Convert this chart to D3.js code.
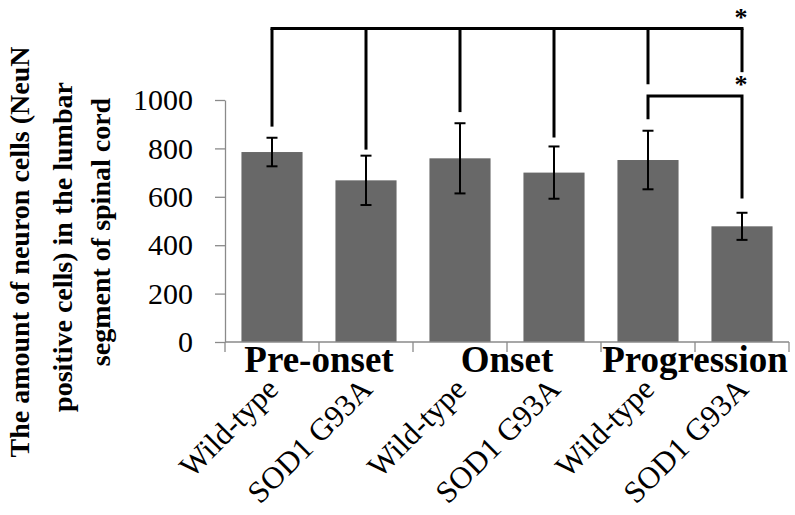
<!DOCTYPE html>
<html>
<head>
<meta charset="utf-8">
<script src="https://cdn.jsdelivr.net/npm/d3@7"></script>
<style>
  body { margin: 0; background: #fff; }
  svg { display: block; }
  text { font-family: "Liberation Serif", "Times New Roman", serif; fill: #000; }
</style>
</head>
<body>
<div id="chart"></div>
<script>
// data
const categories = ["Wild-type", "SOD1 G93A", "Wild-type", "SOD1 G93A", "Wild-type", "SOD1 G93A"];
const groups = ["Pre-onset", "Onset", "Progression"];
const means = [785, 668, 759, 700, 752, 478];
const errors = [59, 102, 145, 108, 121, 56];
const yTicks = [0, 200, 400, 600, 800, 1000];
const yTitle = ["The amount of neuron cells (NeuN", "positive cells) in the lumbar", "segment of spinal cord"];

// significance brackets (in data units)
const legEnds = [890, 795, 950, 845, 1065, 1115]; // lower end of each leg of the big bracket
const bigLevel = 1295;
const small = { from: 4, to: 5, level: 1017, leftEnd: 920, rightEnd: 593 };
const starLevels = [1354, 1078];

const width = 795, height = 515;
const serif = '"Liberation Serif", "Times New Roman", serif';

const svg = d3.select("#chart").append("svg")
    .attr("width", width)
    .attr("height", height);

// scales
const x = d3.scaleBand().domain(d3.range(categories.length)).range([225, 789]).padding(0);
const y = d3.scaleLinear().domain([0, 1000]).range([342, 100]);
const step = x.bandwidth();
const barW = step * 0.65;
const cx = i => x(i) + step / 2;

// bars
svg.append("g").selectAll("rect")
    .data(means)
    .join("rect")
    .attr("x", (d, i) => cx(i) - barW / 2)
    .attr("y", d => y(d))
    .attr("width", barW)
    .attr("height", d => y(0) - y(d))
    .attr("fill", "#686868");

// y axis
const yAxis = svg.append("g")
    .attr("transform", "translate(225,0)")
    .call(d3.axisLeft(y).tickValues(yTicks).tickFormat(d3.format("d"))
        .tickSize(10).tickSizeOuter(0).tickPadding(22));
yAxis.attr("font-family", serif).attr("font-size", 30);
yAxis.select(".domain").attr("stroke", "#8a8a8a").attr("stroke-width", 1.3);
yAxis.selectAll(".tick line").attr("stroke", "#8a8a8a").attr("stroke-width", 1.3);
yAxis.selectAll(".tick text")
    .attr("font-family", serif)
    .attr("font-size", 30)
    .attr("fill", "#000");

// x axis line + boundary ticks
svg.append("line")
    .attr("x1", 225).attr("x2", x.range()[1])
    .attr("y1", y(0)).attr("y2", y(0))
    .attr("stroke", "#8a8a8a").attr("stroke-width", 1.3);
svg.append("g").selectAll("line")
    .data(d3.range(categories.length + 1))
    .join("line")
    .attr("x1", i => 225 + i * step).attr("x2", i => 225 + i * step)
    .attr("y1", y(0)).attr("y2", y(0) + 10)
    .attr("stroke", "#8a8a8a").attr("stroke-width", 1.3);

// error bars
const eb = svg.append("g").attr("stroke", "#000").attr("stroke-width", 2);
means.forEach((m, i) => {
    const hi = y(m + errors[i]), lo = y(m - errors[i]);
    eb.append("line").attr("x1", cx(i)).attr("x2", cx(i)).attr("y1", hi).attr("y2", lo);
    eb.append("line").attr("x1", cx(i) - 5.5).attr("x2", cx(i) + 5.5).attr("y1", hi).attr("y2", hi);
    eb.append("line").attr("x1", cx(i) - 5.5).attr("x2", cx(i) + 5.5).attr("y1", lo).attr("y2", lo);
});

// group labels
svg.append("g").selectAll("text")
    .data(groups)
    .join("text")
    .attr("x", (d, g) => x(g * 2) + step)
    .attr("y", 372)
    .attr("text-anchor", "middle")
    .style("font-size", "37px")
    .style("font-weight", "bold")
    .text(d => d);

// category labels (rotated)
svg.append("g").selectAll("text")
    .data(categories)
    .join("text")
    .attr("transform", (d, i) => `translate(${cx(i) + 8},391) rotate(-45)`)
    .attr("text-anchor", "end")
    .style("font-size", "31px")
    .text(d => d);

// y axis title
const titleBase = [29, 72, 110];
const titleMid = [252, 247, 232];
svg.append("g").selectAll("text")
    .data(yTitle)
    .join("text")
    .attr("transform", (d, i) => `translate(${titleBase[i]},${titleMid[i]}) rotate(-90)`)
    .attr("text-anchor", "middle")
    .style("font-size", "28px")
    .style("font-weight", "bold")
    .text(d => d);

// significance brackets
const br = svg.append("g").attr("stroke", "#000").attr("stroke-width", 3).attr("fill", "none");
br.append("line")
    .attr("x1", cx(0) - 1.5).attr("x2", cx(5) + 1.5)
    .attr("y1", y(bigLevel)).attr("y2", y(bigLevel));
legEnds.forEach((v, i) => {
    br.append("line").attr("x1", cx(i)).attr("x2", cx(i)).attr("y1", y(bigLevel)).attr("y2", y(v));
});
br.append("path")
    .attr("d", `M${cx(small.from)},${y(small.leftEnd)} V${y(small.level)} H${cx(small.to)} V${y(small.rightEnd)}`);

// stars
svg.append("g").selectAll("text")
    .data(starLevels)
    .join("text")
    .attr("x", cx(5) - 1)
    .attr("y", d => y(d) + 12)
    .attr("text-anchor", "middle")
    .style("font-size", "26px")
    .style("font-weight", "bold")
    .text("*");
</script>
</body>
</html>
